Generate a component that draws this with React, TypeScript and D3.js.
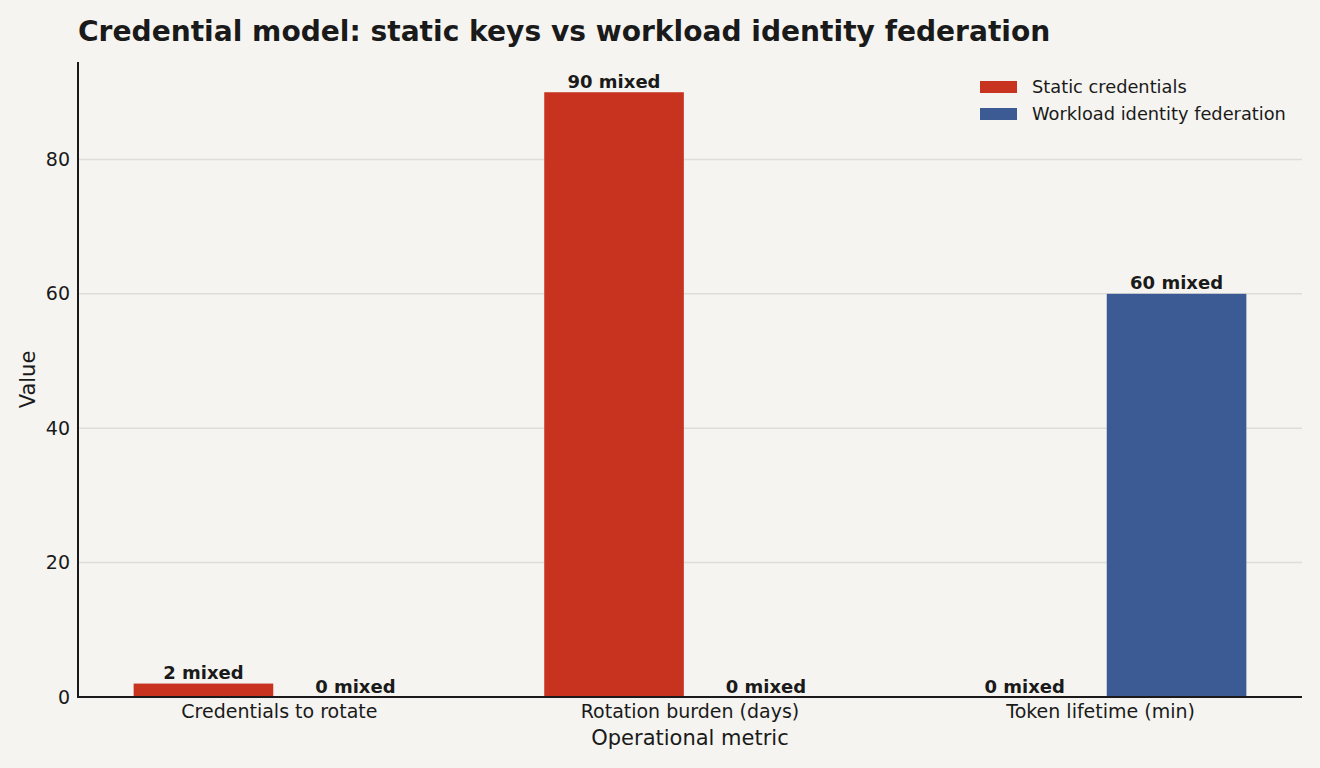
import React from "react";
import * as d3 from "d3";

// --- Data ---
const CATEGORIES = [
  "Credentials to rotate",
  "Rotation burden (days)",
  "Token lifetime (min)",
];
const SERIES = ["Static credentials", "Workload identity federation"];
const STATIC_VALUES = [2, 90, 0];
const WIF_VALUES = [0, 0, 60];
const BAR_LABELS_STATIC = ["2 mixed", "90 mixed", "0 mixed"];
const BAR_LABELS_WIF = ["0 mixed", "0 mixed", "60 mixed"];
const Y_TICKS = [0, 20, 40, 60, 80];

// --- Layout ---
const W = 1320;
const H = 768;
const M = { left: 78, right: 18, top: 62, bottom: 71 };
const BAR_W = 0.34;
const OFFSET = 0.185;
const COLORS = ["#c83320", "#3c5a94"];
const BG = "#f5f4f0";
const INK = "#1a1a1a";
const FONT = "'DejaVu Sans', sans-serif";

export default function App() {
  const x = d3
    .scaleLinear()
    .domain([-0.4905, 2.4905])
    .range([M.left, W - M.right]);
  const y = d3
    .scaleLinear()
    .domain([0, 94.5])
    .range([H - M.bottom, M.top]);

  const series = [
    { name: SERIES[0], values: STATIC_VALUES, labels: BAR_LABELS_STATIC, off: -OFFSET },
    { name: SERIES[1], values: WIF_VALUES, labels: BAR_LABELS_WIF, off: OFFSET },
  ];
  const bw = x(BAR_W) - x(0);

  return (
    <svg
      width={W}
      height={H}
      style={{ display: "block", position: "absolute", left: 0, top: 0, background: BG }}
      fontFamily={FONT}
    >
      <rect width={W} height={H} fill={BG} />

      <text x={M.left} y={41} fontSize={28.1} fontWeight="bold" fill={INK}>
        Credential model: static keys vs workload identity federation
      </text>

      {/* gridlines */}
      {Y_TICKS.filter((t) => t > 0).map((t) => (
        <line
          key={t}
          x1={M.left}
          x2={W - M.right}
          y1={y(t)}
          y2={y(t)}
          stroke="#dfddd7"
          strokeWidth={1.5}
        />
      ))}

      {/* bars */}
      {series.map((s, si) =>
        s.values.map((v, i) => {
          const cx = x(i + s.off);
          return (
            <g key={`${si}-${i}`}>
              <rect
                x={cx - bw / 2}
                y={y(v)}
                width={bw}
                height={y(0) - y(v)}
                fill={COLORS[si]}
              />
              <text
                x={cx}
                y={y(v) - 4.5}
                textAnchor="middle"
                fontSize={18}
                fontWeight="bold"
                fill={INK}
              >
                {s.labels[i]}
              </text>
            </g>
          );
        })
      )}

      {/* axes */}
      <line x1={M.left} x2={M.left} y1={M.top} y2={y(0) + 1} stroke={INK} strokeWidth={2} />
      <line x1={M.left - 1} x2={W - M.right} y1={y(0)} y2={y(0)} stroke={INK} strokeWidth={2} />

      {Y_TICKS.map((t) => (
        <text
          key={t}
          x={70}
          y={y(t)}
          dy="0.35em"
          textAnchor="end"
          fontSize={19}
          fill={INK}
        >
          {t}
        </text>
      ))}
      {CATEGORIES.map((c, i) => (
        <text key={c} x={x(i)} y={718} textAnchor="middle" fontSize={19} fill={INK}>
          {c}
        </text>
      ))}

      <text
        x={x(1)}
        y={745}
        textAnchor="middle"
        fontSize={21}
        fill={INK}
      >
        Operational metric
      </text>
      <text
        transform={`translate(35, ${(M.top + y(0)) / 2}) rotate(-90)`}
        textAnchor="middle"
        fontSize={21}
        fill={INK}
      >
        Value
      </text>

      {/* legend */}
      {SERIES.map((s, i) => (
        <g key={s} transform={`translate(980, ${81 + i * 27})`}>
          <rect width={37} height={12} fill={COLORS[i]} />
          <text x={52} y={6} dy="0.35em" fontSize={17.8} fill={INK}>
            {s}
          </text>
        </g>
      ))}
    </svg>
  );
}
